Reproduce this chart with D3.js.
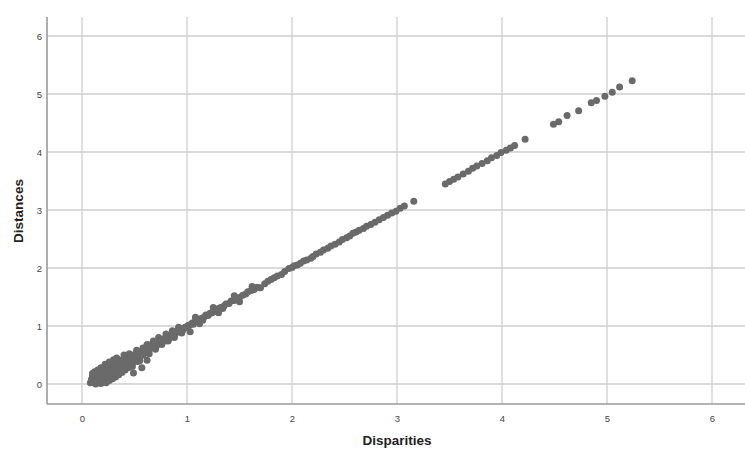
<!DOCTYPE html>
<html>
<head>
<meta charset="utf-8">
<script src="https://cdn.jsdelivr.net/npm/d3@7"></script>
<style>
  html, body { margin: 0; padding: 0; background: #fff; }
  svg { display: block; }
</style>
</head>
<body>
<div id="chart"></div>
<script>
/* canvas size */
const totalWidth = 745;
const totalHeight = 453;

/* tick values of both axes */
const xTicks = [0, 1, 2, 3, 4, 5, 6];
const yTicks = [0, 1, 2, 3, 4, 5, 6];

/* disparities (x) */
const disparities = [
  0.08, 0.09, 0.10, 0.11, 0.12, 0.12, 0.13, 0.14, 0.14, 0.15, 0.16, 0.16, 0.17, 0.17, 0.18, 0.18,
  0.19, 0.19, 0.20, 0.20, 0.21, 0.21, 0.22, 0.22, 0.23, 0.23, 0.24, 0.24, 0.25, 0.25, 0.26, 0.26,
  0.27, 0.27, 0.28, 0.28, 0.29, 0.29, 0.30, 0.30, 0.31, 0.31, 0.32, 0.32, 0.33, 0.33, 0.34, 0.34,
  0.35, 0.35, 0.36, 0.36, 0.37, 0.37, 0.38, 0.38, 0.39, 0.39, 0.40, 0.40, 0.41, 0.42, 0.42, 0.43,
  0.44, 0.44, 0.45, 0.46, 0.46, 0.47, 0.48, 0.49, 0.50, 0.50, 0.51, 0.52, 0.53, 0.54, 0.55, 0.56,
  0.57, 0.58, 0.59, 0.60, 0.61, 0.62, 0.63, 0.64, 0.65, 0.66, 0.67, 0.68, 0.70, 0.71, 0.72, 0.74,
  0.75, 0.76, 0.78, 0.79, 0.80, 0.82, 0.83, 0.85, 0.86, 0.88, 0.90, 0.91, 0.93, 0.95, 0.96, 0.98,
  1.00, 1.01, 1.03, 1.05, 1.06, 1.08, 1.10, 1.12, 1.14, 1.16, 1.18, 1.20, 1.22, 1.24, 1.26, 1.28,
  1.30, 1.32, 1.35, 1.37, 1.40, 1.42, 1.45, 1.47, 1.50, 1.53, 1.56, 1.58, 1.61, 1.64, 1.67, 1.74,
  1.77, 1.80, 1.83, 1.86, 1.90, 1.93, 2.00, 2.02, 2.05, 2.08, 2.11, 2.14, 2.20, 2.23, 2.27, 2.30,
  2.34, 2.37, 2.41, 2.45, 2.48, 2.52, 2.55, 2.61, 2.64, 2.68, 2.71, 2.75, 2.79, 2.83, 2.87, 2.91,
  2.95, 2.99, 3.03, 3.07, 3.16,
  3.46, 3.50, 3.54, 3.58, 3.63, 3.68, 3.72, 3.76, 3.81, 3.86, 3.90, 3.95, 3.99, 4.04, 4.08, 4.12, 4.22,
  4.49, 4.54, 4.62, 4.73, 4.85, 4.90, 4.98, 5.05, 5.12, 5.24,
  0.49, 0.57, 0.62, 1.03, 0.53, 0.69, 1.15, 1.34,
  0.40, 0.45, 0.48, 0.52, 0.55, 0.58, 0.62, 0.64, 0.68, 0.70, 0.73, 0.76, 0.80, 0.82, 0.86, 0.88,
  0.92, 0.95, 0.30, 0.33, 0.26, 0.22, 0.18, 0.15, 0.12, 0.10, 1.08, 1.12, 1.25, 1.30, 1.45, 1.50,
  1.62, 1.70, 2.18, 2.58, 1.97
];

/* distances (y), same order */
const distances = [
  0.02, 0.08, 0.14, 0.04, 0.10, 0.17, 0.00, 0.06, 0.12, 0.19, 0.03, 0.09, 0.15, 0.22, 0.01, 0.07,
  0.12, 0.18, 0.25, 0.04, 0.10, 0.16, 0.21, 0.28, 0.02, 0.08, 0.13, 0.19, 0.24, 0.30, 0.06, 0.11,
  0.17, 0.22, 0.27, 0.33, 0.09, 0.14, 0.20, 0.25, 0.30, 0.36, 0.12, 0.18, 0.23, 0.28, 0.33, 0.38,
  0.16, 0.21, 0.26, 0.31, 0.36, 0.41, 0.20, 0.25, 0.29, 0.34, 0.38, 0.43, 0.24, 0.30, 0.35, 0.40,
  0.45, 0.28, 0.33, 0.38, 0.43, 0.48, 0.36, 0.41, 0.46, 0.51, 0.40, 0.44, 0.49, 0.54, 0.46, 0.51,
  0.56, 0.50, 0.55, 0.60, 0.54, 0.58, 0.63, 0.59, 0.64, 0.68, 0.63, 0.67, 0.70, 0.66, 0.71, 0.74,
  0.70, 0.75, 0.78, 0.74, 0.80, 0.81, 0.78, 0.84, 0.87, 0.85, 0.89, 0.92, 0.90, 0.95, 0.93, 0.98,
  0.97, 1.01, 1.02, 1.05, 1.03, 1.09, 1.08, 1.12, 1.13, 1.15, 1.19, 1.18, 1.22, 1.23, 1.27, 1.26,
  1.30, 1.32, 1.34, 1.38, 1.39, 1.43, 1.44, 1.48, 1.49, 1.53, 1.55, 1.59, 1.61, 1.63, 1.67, 1.73,
  1.77, 1.80, 1.83, 1.86, 1.89, 1.94, 2.01, 2.04, 2.05, 2.08, 2.12, 2.14, 2.20, 2.24, 2.27, 2.31,
  2.34, 2.38, 2.41, 2.45, 2.49, 2.52, 2.55, 2.62, 2.65, 2.68, 2.72, 2.75, 2.79, 2.83, 2.87, 2.91,
  2.95, 2.98, 3.03, 3.07, 3.15,
  3.45, 3.49, 3.53, 3.57, 3.62, 3.67, 3.72, 3.76, 3.80, 3.85, 3.90, 3.94, 3.99, 4.03, 4.07, 4.11, 4.22,
  4.48, 4.52, 4.63, 4.71, 4.85, 4.89, 4.96, 5.03, 5.12, 5.23,
  0.19, 0.28, 0.41, 0.90, 0.39, 0.62, 1.10, 1.30,
  0.50, 0.52, 0.30, 0.58, 0.40, 0.62, 0.68, 0.52, 0.74, 0.60, 0.80, 0.68, 0.86, 0.74, 0.92, 0.80,
  0.98, 0.88, 0.42, 0.45, 0.38, 0.34, 0.28, 0.24, 0.21, 0.18, 1.15, 1.04, 1.32, 1.23, 1.52, 1.42,
  1.68, 1.66, 2.17, 2.60, 1.99
];

/* axis titles */
const xTitle = "Disparities";
const yTitle = "Distances";

/* plot frame (pixels) */
const plotLeft = 47, plotRight = 745, plotTop = 17, plotBottom = 404;

const x = d3.scaleLinear().domain([0, 6]).range([82, 712]);
const y = d3.scaleLinear().domain([0, 6]).range([384, 36]);

const svg = d3.select("#chart")
  .append("svg")
    .attr("width", totalWidth)
    .attr("height", totalHeight)
    .style("font-family", "Arial, 'Liberation Sans', sans-serif");

/* grid lines */
svg.append("g")
  .selectAll("line")
  .data(xTicks)
  .join("line")
    .attr("x1", d => x(d)).attr("x2", d => x(d))
    .attr("y1", plotTop).attr("y2", plotBottom)
    .attr("stroke", "#cfcfcf")
    .attr("stroke-width", 1.3);

svg.append("g")
  .selectAll("line")
  .data(yTicks)
  .join("line")
    .attr("x1", plotLeft).attr("x2", plotRight)
    .attr("y1", d => y(d)).attr("y2", d => y(d))
    .attr("stroke", "#cfcfcf")
    .attr("stroke-width", 1.3);

/* axes built with d3 axis, then styled */
const xAxis = svg.append("g")
  .attr("transform", "translate(0," + plotBottom + ")")
  .call(d3.axisBottom(x).tickValues(xTicks).tickSize(0).tickPadding(11).tickFormat(d3.format("d")));
xAxis.select(".domain").remove();

const yAxis = svg.append("g")
  .attr("transform", "translate(" + plotLeft + ",0)")
  .call(d3.axisLeft(y).tickValues(yTicks).tickSize(0).tickPadding(5).tickFormat(d3.format("d")));
yAxis.select(".domain").remove();

svg.selectAll(".tick text")
  .attr("fill", "#444")
  .style("font-size", "9.5px");

svg.append("line")
  .attr("x1", plotLeft).attr("x2", plotRight)
  .attr("y1", plotBottom).attr("y2", plotBottom)
  .attr("stroke", "#9a9a9a").attr("stroke-width", 1.6);

svg.append("line")
  .attr("x1", plotLeft).attr("x2", plotLeft)
  .attr("y1", plotTop).attr("y2", plotBottom)
  .attr("stroke", "#9a9a9a").attr("stroke-width", 1.6);

/* points */
const points = disparities.map((d, i) => ({ x: d, y: distances[i] }));

svg.append("g")
  .selectAll("circle")
  .data(points)
  .join("circle")
    .attr("cx", d => x(d.x))
    .attr("cy", d => y(d.y))
    .attr("r", 3.5)
    .attr("fill", "#6a6a6a");

/* axis titles */
svg.append("text")
  .attr("x", 397).attr("y", 445)
  .attr("text-anchor", "middle")
  .attr("font-weight", "bold")
  .attr("font-size", 13.5)
  .attr("fill", "#222")
  .text(xTitle);

svg.append("text")
  .attr("transform", "translate(23,211) rotate(-90)")
  .attr("text-anchor", "middle")
  .attr("font-weight", "bold")
  .attr("font-size", 13.5)
  .attr("fill", "#222")
  .text(yTitle);
</script>
</body>
</html>
